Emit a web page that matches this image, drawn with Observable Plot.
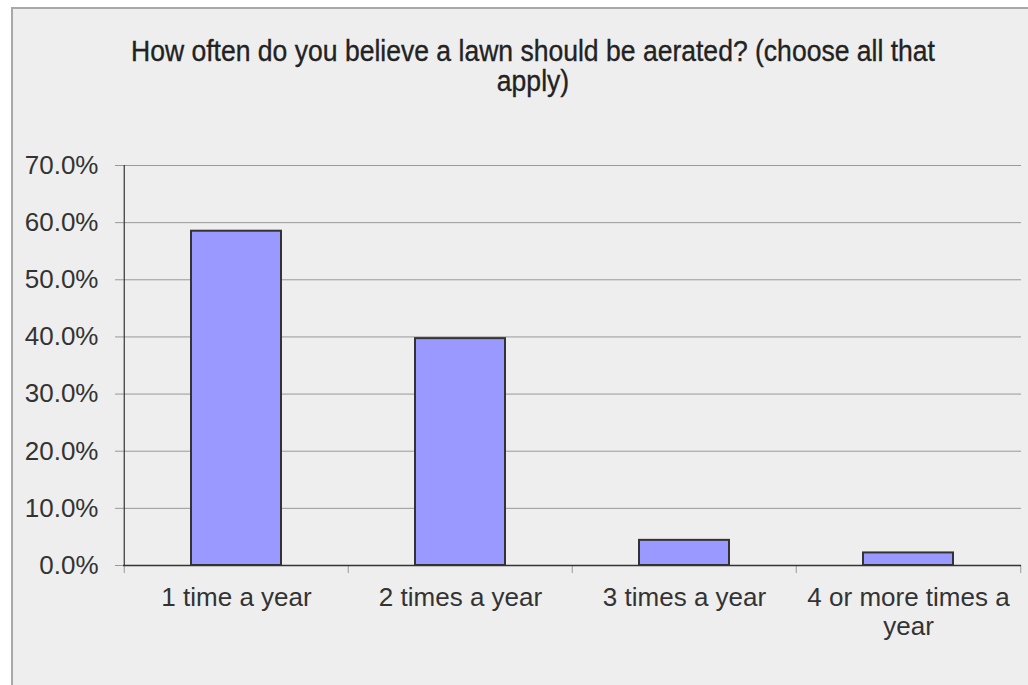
<!DOCTYPE html>
<html>
<head>
<meta charset="utf-8">
<script src="https://cdn.jsdelivr.net/npm/d3@7"></script>
<script src="https://cdn.jsdelivr.net/npm/@observablehq/plot@0.6"></script>
<style>
  html, body { margin: 0; padding: 0; background: #ffffff; }
  #frame {
    position: absolute; left: 11px; top: 7px; width: 1017px; height: 678px;
    box-sizing: border-box; background: #eeeeee;
    border-left: 2px solid #a8a8a8; border-top: 2px solid #a8a8a8;
    overflow: hidden;
  }
  #title {
    box-sizing: border-box; height: 130px; padding-top: 28px; padding-left: 25px;
    font-family: "Liberation Sans", Arial, sans-serif;
    font-size: 29px; line-height: 29.5px; color: #222;
  }
  #title div { text-align: center; transform: scaleX(0.915); transform-origin: 50% 50%; white-space: nowrap; -webkit-text-stroke: 0.35px #222; }
  #chart svg { display: block; }
</style>
</head>
<body>
<div id="frame">
  <div id="title"><div>How often do you believe a lawn should be aerated? (choose all that<br>apply)</div></div>
  <div id="chart"></div>
</div>
<script>
const categories = ["1 time a year", "2 times a year", "3 times a year", "4 or more times a year"];
const values = [0.585, 0.397, 0.044, 0.022];
const tickLabels = ["1 time a year", "2 times a year", "3 times a year", "4 or more times a\nyear"];
const yTicks = [0, 0.1, 0.2, 0.3, 0.4, 0.5, 0.6, 0.7];

const data = categories.map((c, i) => ({cat: c, value: values[i]}));

const W = 1015, H = 546, ML = 110, MR = 7, MT = 26, MB = 120;
const step = (W - ML - MR) / categories.length;

const chart = Plot.plot({
  width: W, height: H,
  marginLeft: ML, marginRight: MR, marginTop: MT, marginBottom: MB,
  style: {background: "transparent", color: "#333", fontFamily: "'Liberation Sans', Arial, sans-serif", fontSize: "26px"},
  x: {domain: categories, paddingInner: 0.6, paddingOuter: 0.3, label: null},
  y: {domain: [0, 0.7], label: null},
  marks: [
    Plot.gridY(yTicks, {stroke: "#999", strokeOpacity: 1}),
    Plot.axisY(yTicks, {tickSize: 8, tickPadding: 17, tickFormat: d3.format(".1%"), stroke: "#999", fill: "#333", label: null}),
    Plot.axisX({tickSize: 0, tickPadding: 20, tickFormat: (d) => tickLabels[categories.indexOf(d)], lineHeight: 1.12, fill: "#333", label: null}),
    Plot.ruleX(categories, {x: d => d, y1: 0, y2: 0, dx: -step / 2, stroke: "#999", insetBottom: -8}),
    Plot.ruleX([categories[categories.length - 1]], {x: d => d, y1: 0, y2: 0, dx: step / 2, stroke: "#999", insetBottom: -8}),
    Plot.barY(data, {x: "cat", y: "value", fill: "#9999ff", stroke: "#333", strokeWidth: 2}),
    Plot.ruleY([0], {stroke: "#333", strokeWidth: 1.5}),
    Plot.ruleX([categories[0]], {x: d => d, y1: 0, y2: 0.7, dx: -step / 2, stroke: "#333", strokeWidth: 1.2})
  ]
});
document.getElementById("chart").appendChild(chart);
</script>
</body>
</html>
